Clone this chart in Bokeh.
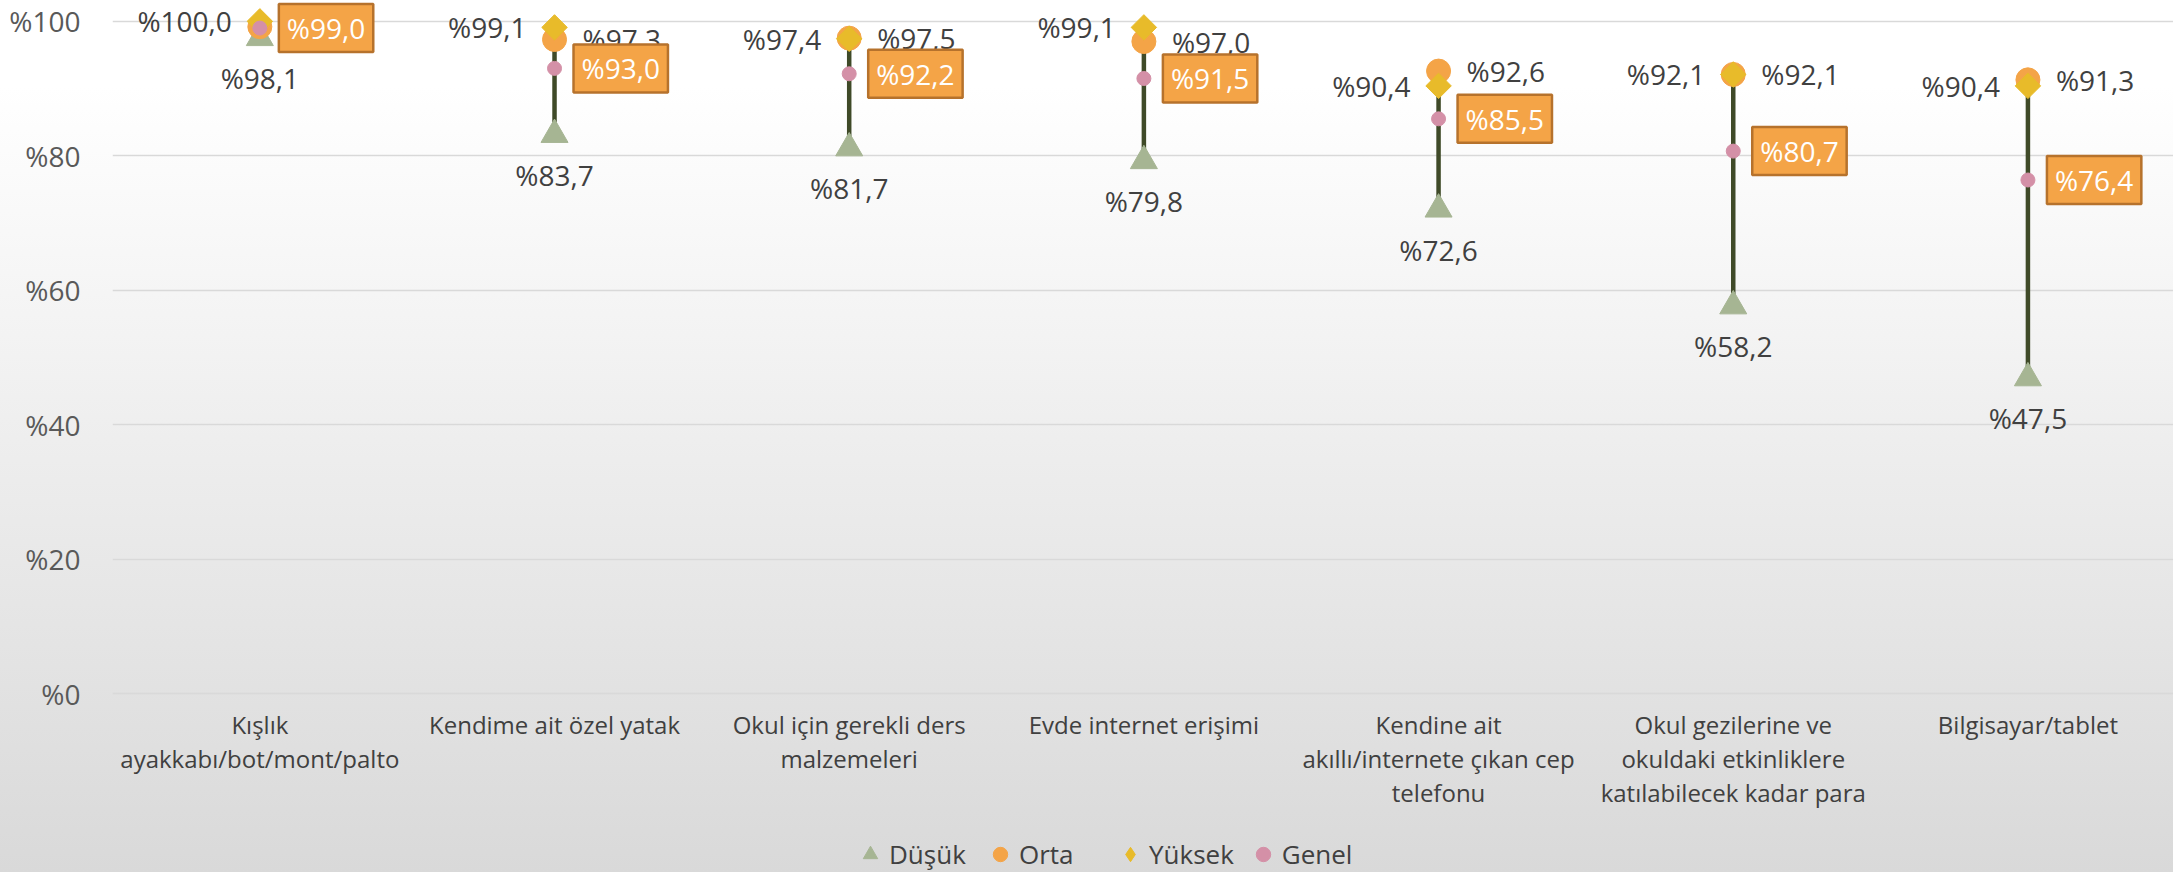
from bokeh.plotting import figure
from bokeh.models import Range1d, FixedTicker, ColumnDataSource, Legend, LegendItem
from bokeh.transform import dodge
from bokeh.core.properties import value
from bokeh.embed import file_html
from bokeh.resources import INLINE

categories = [
    "Kışlık\nayakkabı/bot/mont/palto",
    "Kendime ait özel yatak",
    "Okul için gerekli ders\nmalzemeleri",
    "Evde internet erişimi",
    "Kendine ait\nakıllı/internete çıkan cep\ntelefonu",
    "Okul gezilerine ve\nokuldaki etkinliklere\nkatılabilecek kadar para",
    "Bilgisayar/tablet",
]
dusuk = [98.1, 83.7, 81.7, 79.8, 72.6, 58.2, 47.5]
orta = [99.2, 97.3, 97.5, 97.0, 92.6, 92.1, 91.3]
yuksek = [100.0, 99.1, 97.4, 99.1, 90.4, 92.1, 90.4]
genel = [99.0, 93.0, 92.2, 91.5, 85.5, 80.7, 76.4]
y_ticks = [0, 20, 40, 60, 80, 100]
y_tick_labels = ["%0", "%20", "%40", "%60", "%80", "%100"]
series_names = ["Düşük", "Orta", "Yüksek", "Genel"]

C_DUSUK = "#a6b593"
C_ORTA = "#f4a447"
C_YUKSEK = "#e8bb2a"
C_GENEL = "#d490a7"


def fmt(v):
    return "%" + f"{v:.1f}".replace(".", ",")


xs = list(range(len(categories)))
src = ColumnDataSource(dict(
    x=xs,
    dusuk=dusuk, orta=orta, yuksek=yuksek, genel=genel,
    top=[max(a, b) for a, b in zip(orta, yuksek)],
    dusuk_lbl=[fmt(v) for v in dusuk],
    orta_lbl=[fmt(v) for v in orta],
    yuksek_lbl=[fmt(v) for v in yuksek],
    genel_lbl=[fmt(v) for v in genel],
))

W, H = 2173, 872
# frame spans whole height; the x axis sits at y=0 (fixed_location)
yr = Range1d(-26.6, 103.1)
p = figure(width=W, height=H, output_backend="svg", toolbar_location=None,
           x_range=Range1d(-0.5, 6.494), y_range=yr,
           min_border_left=112, min_border_right=0, min_border_top=0,
           min_border_bottom=0)
p.background_fill_alpha = 0
p.border_fill_alpha = 0
p.outline_line_color = None
p.styles = {"background": "linear-gradient(to bottom, #ffffff 0%, #ffffff 10%, #d9d9d9 100%)"}

font = value("Open Sans")
TXT = "#404040"

p.segment(x0="x", y0="dusuk", x1="x", y1="top", line_color="#3f4a28", line_width=4.5, source=src)
r_d = p.scatter("x", dodge("dusuk", -0.55, range=yr), marker="triangle", size=27, color=C_DUSUK, source=src)
r_o = p.scatter("x", "orta", marker="circle", size=24, color=C_ORTA, source=src)
r_y = p.scatter("x", "yuksek", marker="square", angle=0.7853981634, size=18, color=C_YUKSEK, source=src)
r_g = p.scatter("x", "genel", marker="circle", size=14, color=C_GENEL, source=src)
# legend proxy for the diamond (legend glyphs ignore the marker angle); its point is not drawable
r_y_leg = p.scatter(x=[float("nan")], y=[float("nan")], marker="diamond", size=18, color=C_YUKSEK)

p.text("x", "dusuk", text="dusuk_lbl", y_offset=44, text_align="center", text_baseline="middle",
       text_font=font, text_font_size="28px", text_color=TXT, source=src)
p.text("x", "yuksek", text="yuksek_lbl", x_offset=-28, text_align="right", text_baseline="middle",
       text_font=font, text_font_size="28px", text_color=TXT, source=src)
p.text("x", "orta", text="orta_lbl", x_offset=28, text_align="left", text_baseline="middle",
       text_font=font, text_font_size="28px", text_color=TXT, source=src)
p.text("x", "genel", text="genel_lbl", x_offset=19, text_align="left", text_baseline="middle",
       text_font=font, text_font_size="28px", text_color="#ffffff",
       background_fill_color=C_ORTA, border_line_color="#b6722c", border_line_width=2.5,
       padding=dict(left=8, right=8, top=5, bottom=5), source=src)

# axes
p.xaxis.fixed_location = 0
p.xaxis.ticker = FixedTicker(ticks=xs)
p.xaxis.major_label_overrides = {i: c for i, c in enumerate(categories)}
p.xaxis.major_tick_line_color = None
p.xaxis.minor_tick_line_color = None
p.xaxis.axis_line_color = "#d9d9d9"
p.xaxis.axis_line_width = 1.5
p.xaxis.major_label_standoff = 8
p.xaxis.major_label_text_font = "Open Sans"
p.xaxis.major_label_text_font_size = "24px"
p.xaxis.major_label_text_line_height = 1.03
p.xaxis.major_label_text_color = TXT

p.yaxis.ticker = FixedTicker(ticks=y_ticks)
p.yaxis.major_label_overrides = {t: l for t, l in zip(y_ticks, y_tick_labels)}
p.yaxis.major_tick_line_color = None
p.yaxis.minor_tick_line_color = None
p.yaxis.axis_line_color = None
p.yaxis.major_label_standoff = 26
p.yaxis.major_label_text_font = "Open Sans"
p.yaxis.major_label_text_font_size = "28px"
p.yaxis.major_label_text_color = "#595959"

p.xgrid.visible = False
p.ygrid.ticker = FixedTicker(ticks=y_ticks)
p.ygrid.grid_line_color = "#d9d9d9"
p.ygrid.grid_line_width = 1.5

legend = Legend(items=[LegendItem(label=n, renderers=[r]) for n, r in zip(series_names, [r_d, r_o, r_y_leg, r_g])],
                location=(739, 0), orientation="horizontal")
legend.background_fill_alpha = 0
legend.border_line_color = None
legend.padding = 0
legend.margin = 0
legend.spacing = 10
legend.glyph_width = 38
legend.glyph_height = 36
legend.label_standoff = 0
legend.label_width = 82
legend.label_text_font = "Open Sans"
legend.label_text_font_size = "26px"
legend.label_text_color = TXT
p.add_layout(legend)

open("out.html", "w").write(file_html(p, INLINE))
